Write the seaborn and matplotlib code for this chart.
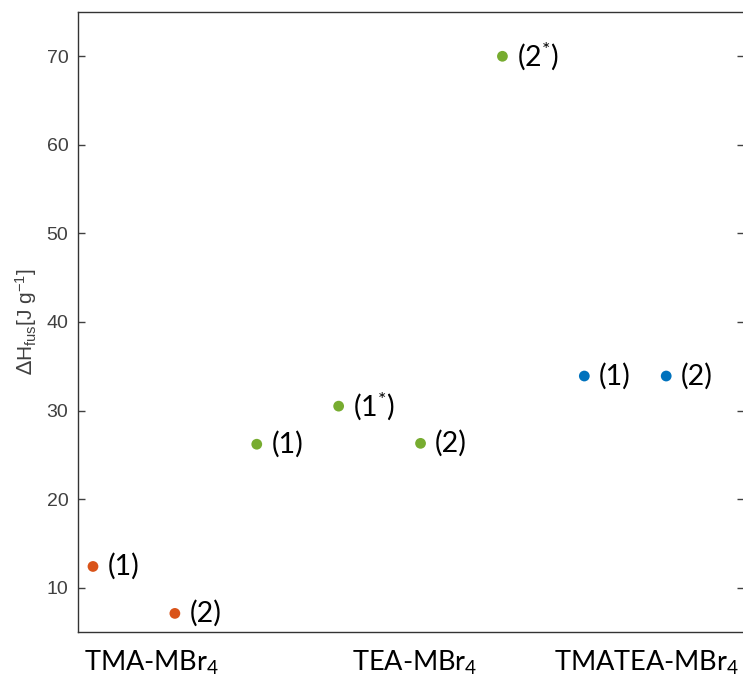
import matplotlib
matplotlib.use("Agg")
import matplotlib.pyplot as plt
import seaborn as sns
import pandas as pd

# Enthalpy of fusion for each sample
groups = ["TMA", "TMA", "TEA", "TEA", "TEA", "TEA", "TMATEA", "TMATEA"]
sample_labels = ["(1)", "(2)", "(1)", "(1$^{*}$)", "(2)", "(2$^{*}$)", "(1)", "(2)"]
dh_fus = [12.4, 7.1, 26.2, 30.5, 26.3, 70.0, 33.9, 33.9]

group_colors = {"TMA": "#D95319", "TEA": "#77AC30", "TMATEA": "#0072BD"}
group_tick_pos = [1.72, 4.93, 7.76]
group_tick_labels = ["TMA-MBr$_4$", "TEA-MBr$_4$", "TMATEA-MBr$_4$"]
y_ticks = [10, 20, 30, 40, 50, 60, 70]

df = pd.DataFrame({
    "pos": list(range(1, len(dh_fus) + 1)),
    "dh": dh_fus,
    "group": groups,
    "label": sample_labels,
})

sns.set_style("white")
plt.rcParams["font.family"] = ["Liberation Sans", "DejaVu Sans"]
plt.rcParams["mathtext.fontset"] = "custom"
plt.rcParams["mathtext.rm"] = "Lato"
plt.rcParams["mathtext.it"] = "Lato:italic"

fig = plt.figure(figsize=(7.43, 6.79), dpi=100)
ax = fig.add_axes([78 / 743, 47 / 679, 666 / 743, 620 / 679])

sns.scatterplot(data=df, x="pos", y="dh", hue="group", palette=group_colors,
                s=60, edgecolor="none", legend=False, ax=ax, zorder=3)

for _, r in df.iterrows():
    ax.annotate(r["label"], (r["pos"], r["dh"]), xytext=(10.5, 0),
                textcoords="offset points", va="center", ha="left",
                fontsize=20.5, family="Lato", color="black")

ax.set_xlim(0.817, 8.95)
ax.set_ylim(5, 75)
ax.set_yticks(y_ticks)
ax.set_xticks(group_tick_pos)
ax.set_xticklabels(group_tick_labels, fontsize=19.5, family="Lato", color="black")
ax.tick_params(axis="x", length=0, pad=12)
ax.tick_params(axis="y", direction="in", length=5, width=1, colors="#404040",
               labelsize=14, left=True, right=True, labelcolor="#404040", pad=7)

ax.set_xlabel("")
ax.set_ylabel(r"$\Delta$H$_{\mathregular{fus}}$[J g$^{\mathregular{-1}}$]",
              fontsize=15, color="#404040")
ax.yaxis.set_label_coords(-0.058, 0.5)

for side in ["left", "bottom", "top"]:
    ax.spines[side].set_color("#333333")
    ax.spines[side].set_linewidth(1.0)
ax.spines["right"].set_visible(False)

fig.savefig("out.png", dpi=100)
